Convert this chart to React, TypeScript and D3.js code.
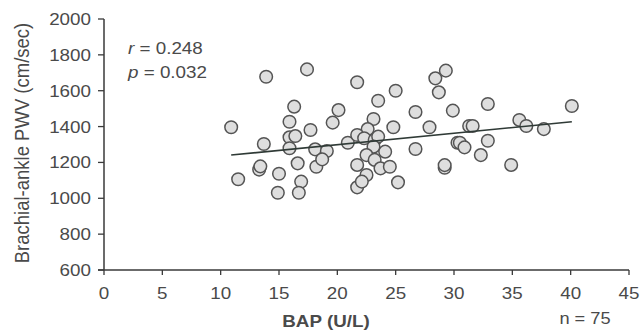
import React from "react";
import * as d3 from "d3";

const bapValues: number[] = [
  10.9, 11.5, 13.3, 13.4, 13.7, 13.9, 15.0, 14.9, 17.4, 21.7,
  25.0, 23.5, 28.4, 29.3, 28.7, 16.3, 20.1, 19.6, 26.7, 29.9,
  15.9, 17.7, 23.1, 22.6, 24.8, 27.9, 15.9, 16.4, 15.9, 18.1,
  19.1, 20.9, 21.7, 22.3, 23.2, 23.5, 23.1, 22.5, 24.1, 23.2,
  26.7, 30.3, 16.6, 18.2, 18.7, 21.7, 23.7, 24.5, 22.5, 29.2,
  29.2, 16.9, 16.7, 21.7, 22.1, 25.2, 32.9, 40.1, 31.3, 31.6,
  35.6, 36.2, 37.7, 30.5, 30.9, 32.9, 32.3, 34.9,
];
const pwvValues: number[] = [
  1396, 1106, 1160, 1178, 1303, 1678, 1137, 1031, 1719, 1647,
  1600, 1544, 1669, 1712, 1591, 1511, 1492, 1422, 1481, 1489,
  1427, 1381, 1442, 1386, 1396, 1396, 1340, 1347, 1279, 1273,
  1264, 1310, 1353, 1335, 1325, 1344, 1288, 1241, 1260, 1214,
  1275, 1310, 1195, 1176, 1217, 1186, 1167, 1176, 1130, 1170,
  1185, 1093, 1031, 1061, 1093, 1089, 1526, 1515, 1403, 1403,
  1437, 1403, 1386, 1310, 1284, 1321, 1241, 1186,
];
const fitX: number[] = [10.9, 40.1];
const fitY: number[] = [1241, 1427];
const xTicks: number[] = [0, 5, 10, 15, 20, 25, 30, 35, 40, 45];
const yTicks: number[] = [600, 800, 1000, 1200, 1400, 1600, 1800, 2000];

const SX = 1.14;

function T(props: {
  x: number;
  y: number;
  anchor?: "start" | "middle" | "end";
  size?: number;
  bold?: boolean;
  dy?: string;
  fill: string;
  children: React.ReactNode;
}) {
  return (
    <text
      transform={`translate(${props.x},${props.y}) scale(${SX},1)`}
      textAnchor={props.anchor || "start"}
      fontSize={props.size || 16.5}
      fontWeight={props.bold ? "bold" : "normal"}
      dy={props.dy}
      fill={props.fill}
    >
      {props.children}
    </text>
  );
}

export default function App() {
  const W = 643;
  const H = 330;
  const x = d3.scaleLinear().domain([0, 45]).range([104, 629]);
  const y = d3.scaleLinear().domain([600, 2000]).range([270, 19]);
  const font = "'Liberation Sans', Arial, sans-serif";
  const textColor = "#4a4a4a";
  const axisColor = "#3a3a3a";
  const pts = bapValues.map((b, i) => ({ b, p: pwvValues[i] }));
  const line = d3
    .line<number>()
    .x((d) => x(d))
    .y((_, i) => y(fitY[i]));

  return (
    <svg
      width={W}
      height={H}
      style={{ position: "absolute", left: 0, top: 0, background: "#fff" }}
      fontFamily={font}
    >
      {/* axes */}
      <line x1={x(0)} x2={x(0)} y1={y(2000)} y2={y(600)} stroke={axisColor} strokeWidth={1.5} />
      <line x1={x(0) - 6} x2={x(45)} y1={y(600)} y2={y(600)} stroke={axisColor} strokeWidth={1.5} />
      {yTicks.map((t) => (
        <g key={"y" + t}>
          <line x1={x(0) - 6} x2={x(0)} y1={y(t)} y2={y(t)} stroke={axisColor} strokeWidth={1.3} />
          <T x={x(0) - 13} y={y(t)} dy="0.36em" anchor="end" fill={textColor}>
            {t}
          </T>
        </g>
      ))}
      {xTicks.map((t) => (
        <g key={"x" + t}>
          <line x1={x(t)} x2={x(t)} y1={y(600)} y2={y(600) + 5} stroke={axisColor} strokeWidth={1.3} />
          <T x={x(t)} y={299} anchor="middle" fill={textColor}>
            {t}
          </T>
        </g>
      ))}
      {/* axis titles */}
      <text
        transform={`translate(29, 143) rotate(-90) scale(1,${SX})`}
        textAnchor="middle"
        fontSize={18.5}
        fill={textColor}
      >
        Brachial-ankle PWV (cm/sec)
      </text>
      <T x={326} y={327} anchor="middle" size={16.5} bold fill={textColor}>
        BAP (U/L)
      </T>
      <T x={585} y={324} anchor="middle" size={16} fill={textColor}>
        n = 75
      </T>
      {/* stats */}
      <T x={128} y={54} size={16.5} fill={textColor}>
        <tspan fontStyle="italic">r</tspan> = 0.248
      </T>
      <T x={128} y={78} size={16.5} fill={textColor}>
        <tspan fontStyle="italic">p</tspan> = 0.032
      </T>
      {/* points */}
      {pts.map((d, i) => (
        <circle
          key={i}
          cx={x(d.b)}
          cy={y(d.p)}
          r={6.3}
          fill="#dedede"
          stroke="#545454"
          strokeWidth={1.5}
        />
      ))}
      {/* regression line */}
      <path d={line(fitX) || ""} fill="none" stroke="#2f3a36" strokeWidth={1.6} />
    </svg>
  );
}
